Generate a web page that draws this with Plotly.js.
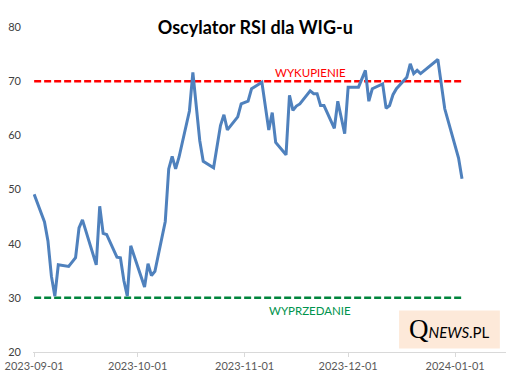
<!DOCTYPE html>
<html>
<head>
<meta charset="utf-8">
<script src="https://cdn.plot.ly/plotly-3.0.1.min.js"></script>
<style>html,body{margin:0;padding:0;background:#fff;}#chart{width:519px;height:382px;}</style>
</head>
<body>
<div id="chart"></div>
<script>
const dates = [
'2023-09-01','2023-09-04','2023-09-05','2023-09-06','2023-09-07','2023-09-08','2023-09-11','2023-09-13','2023-09-14','2023-09-15','2023-09-19','2023-09-20','2023-09-21','2023-09-22','2023-09-25','2023-09-26','2023-09-27','2023-09-28','2023-09-29',
'2023-10-03','2023-10-04','2023-10-05','2023-10-06','2023-10-09','2023-10-10','2023-10-11','2023-10-12','2023-10-13','2023-10-16','2023-10-17','2023-10-19','2023-10-20','2023-10-23','2023-10-25','2023-10-26','2023-10-27','2023-10-30','2023-10-31',
'2023-11-02','2023-11-03','2023-11-06','2023-11-08','2023-11-09','2023-11-10','2023-11-13','2023-11-14','2023-11-15','2023-11-16','2023-11-17','2023-11-20','2023-11-21','2023-11-22','2023-11-23','2023-11-24','2023-11-27','2023-11-28','2023-11-30',
'2023-12-01','2023-12-04','2023-12-05','2023-12-06','2023-12-07','2023-12-08','2023-12-11','2023-12-12','2023-12-13','2023-12-14','2023-12-15','2023-12-18','2023-12-19','2023-12-20','2023-12-21','2023-12-22','2023-12-27','2023-12-28','2023-12-29',
'2024-01-02','2024-01-03'];

const rsi = [
49.1, 44.0, 40.5, 34.0, 30.3, 36.1, 35.8, 37.4, 42.9, 44.4, 36.1, 46.9, 41.9, 41.7, 37.5, 37.4, 33.2, 30.3, 39.6,
32.0, 36.3, 34.1, 34.9, 44.1, 53.8, 56.1, 53.8, 56.0, 64.5, 71.6, 59.0, 55.2, 54.0, 61.8, 63.8, 61.0, 63.4, 65.8,
66.3, 68.6, 69.8, 61.0, 64.2, 58.7, 56.4, 67.4, 64.6, 65.4, 65.8, 68.2, 67.7, 67.7, 65.5, 65.5, 61.3, 66.3, 60.3,
68.9, 68.9, 70.4, 72.0, 66.3, 68.6, 69.5, 65.0, 65.5, 67.5, 68.6, 70.7, 73.2, 71.4, 72.0, 71.4, 74.0, 69.8, 64.9,
55.8, 52.0];

const overboughtLevel = 70;
const oversoldLevel = 30;
const overboughtLabel = 'WYKUPIENIE';
const oversoldLabel = 'WYPRZEDANIE';
const tickDates = ['2023-09-01','2023-10-01','2023-11-01','2023-12-01','2024-01-01'];
const yTicks = [20, 30, 40, 50, 60, 70, 80];
const chartTitle = 'Oscylator RSI dla WIG-u';

const levelX = [dates[0], dates[dates.length - 1]];

const traces = [
  {x: levelX, y: [overboughtLevel, overboughtLevel], mode: 'lines', line: {color: '#ff0000', width: 2.5, dash: '7px,3px'}, hoverinfo: 'skip'},
  {x: levelX, y: [oversoldLevel, oversoldLevel], mode: 'lines', line: {color: '#00843d', width: 2.5, dash: '7px,3px'}, hoverinfo: 'skip'},
  {x: dates, y: rsi, mode: 'lines', line: {color: '#4f81bd', width: 3}}
];

const layout = {
  width: 519, height: 382,
  margin: {l: 33, r: 13, t: 27, b: 30},
  paper_bgcolor: '#ffffff', plot_bgcolor: '#ffffff',
  showlegend: false,
  font: {family: 'Lato, "Open Sans", sans-serif', color: '#595959', size: 11},
  title: {text: '<b>' + chartTitle + '</b>', x: 0.492, xanchor: 'center', y: 0.928, yanchor: 'middle',
          font: {family: 'Lato, "Open Sans", sans-serif', size: 18, color: '#000000'}},
  xaxis: {
    type: 'date', range: ['2023-08-31 16:00', '2024-01-15 18:00'],
    tickvals: tickDates, ticktext: tickDates,
    showgrid: false, zeroline: false,
    showline: true, linecolor: '#d9d9d9', linewidth: 1,
    ticks: 'outside', ticklen: 4, tickcolor: '#d9d9d9',
    tickfont: {size: 11, color: '#595959'}, automargin: false, fixedrange: true
  },
  yaxis: {
    range: [20, 80], tickvals: yTicks,
    showgrid: false, zeroline: false, showline: false, ticks: '',
    ticklabelstandoff: 11,
    tickfont: {size: 11, color: '#404040'}, automargin: false, fixedrange: true
  },
  shapes: [
    {type: 'rect', xref: 'paper', yref: 'paper', x0: 0.774, x1: 0.987, y0: 0.011, y1: 0.128,
     fillcolor: '#fde9d9', line: {width: 0}, layer: 'below'}
  ],
  annotations: [
    {x: '2023-11-20', y: overboughtLevel, yshift: 9, text: overboughtLabel, showarrow: false,
     font: {size: 11.5, color: '#ff0000'}},
    {x: '2023-11-20', y: oversoldLevel, yshift: -13, text: oversoldLabel, showarrow: false,
     font: {size: 11.5, color: '#00934d'}},
    {xref: 'paper', yref: 'paper', x: 0.88, y: 0.07, xanchor: 'center', yanchor: 'middle', showarrow: false,
     text: '<span style="font-family:\'Liberation Serif\';font-size:27px">Q</span><span style="font-style:italic">NEWS</span>.PL',
     font: {family: 'Lato, sans-serif', size: 15, color: '#000000'}}
  ]
};

Plotly.newPlot('chart', traces, layout, {displayModeBar: false, staticPlot: true});
</script>
</body>
</html>
